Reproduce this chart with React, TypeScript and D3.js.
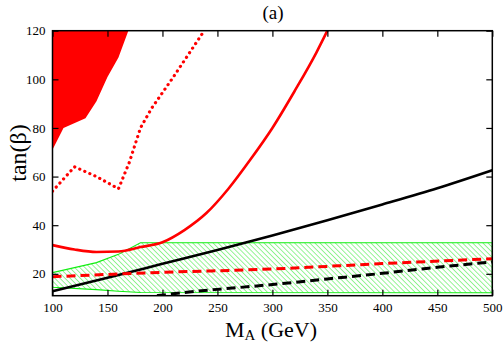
import React, { useRef, useEffect } from "react";
import { select, scaleLinear, line, area, axisBottom, axisLeft, axisTop, axisRight, curveMonotoneX, curveLinear } from "d3";

// tick values
const xTicks = [100, 150, 200, 250, 300, 350, 400, 450, 500];
const yTicks = [20, 40, 60, 80, 100, 120];

// excluded (filled red) region boundary
const fillX = [100, 100, 110, 130, 140, 150, 160, 169];
const fillY = [120, 71, 80, 84, 91, 101, 109, 120];

// red dotted curve
const dotX = [100, 120, 140, 160, 170, 180, 190, 210, 238];
const dotY = [54, 64, 60, 55, 66, 80, 88, 101, 120];

// red solid curve
const redX = [100, 120, 140, 160, 180, 200, 220, 240, 260, 280, 300, 320, 340, 350];
const redY = [31.8, 30, 29, 29.2, 31, 33, 38, 45, 55, 67, 80, 95, 111, 120];

// black solid
const blkX = [100, 150, 200, 250, 300, 350, 400, 450, 500];
const blkY = [12.8, 18.4, 24.1, 29.8, 35.8, 42, 48.5, 55.2, 62.6];

// red dashed
const rdX = [100, 200, 300, 400, 500];
const rdY = [18.8, 20.6, 22, 24.2, 26.2];

// black dashed
const bdX = [195, 230, 250, 300, 350, 400, 450, 500];
const bdY = [11, 12.8, 13.6, 15.6, 17.9, 20.2, 22.7, 24.9];

// green hatched band
const bandX = [100, 140, 160, 180, 500];
const bandTop = [20.5, 24.6, 28, 32.8, 32.8];
const bandBot = [14.5, 13.5, 12.8, 12.3, 12.2];

const zip = (xs: number[], ys: number[]) => xs.map((x, i) => [x, ys[i]] as [number, number]);
const SERIF = "Liberation Serif, Times New Roman, serif";

const App = () => {
  const gRef = useRef<SVGGElement>(null);

  const left = 52.5, right = 492.3, top = 30.7, bottom = 295.7;
  const x = scaleLinear().domain([100, 500]).range([left, right]);
  const y = scaleLinear().domain([11, 120]).range([bottom, top]);

  const ln = line<[number, number]>().x(d => x(d[0])).y(d => y(d[1])).curve(curveLinear);
  const smooth = line<[number, number]>().x(d => x(d[0])).y(d => y(d[1])).curve(curveMonotoneX);
  const band = area<number>()
    .x((d, i) => x(bandX[i]))
    .y0((d, i) => y(bandBot[i]))
    .y1((d) => y(d));

  useEffect(() => {
    const g = select(gRef.current);
    const font = (sel: any) => {
      sel.attr("font-family", SERIF).attr("font-size", 13);
      sel.selectAll("text").attr("font-family", SERIF).attr("font-size", 13).attr("fill", "#000");
    };

    g.select<SVGGElement>(".x-axis")
      .attr("transform", `translate(0,${bottom})`)
      .call(axisBottom(x).tickValues(xTicks).tickSizeInner(-6).tickSizeOuter(0).tickPadding(7))
      .call(font);
    g.select<SVGGElement>(".y-axis")
      .attr("transform", `translate(${left},0)`)
      .call(axisLeft(y).tickValues(yTicks).tickSizeInner(-6).tickSizeOuter(0).tickPadding(7))
      .call(font);
    g.select<SVGGElement>(".x-top")
      .attr("transform", `translate(0,${top})`)
      .call(axisTop(x).tickValues(xTicks).tickSizeInner(-6).tickSizeOuter(0).tickFormat(() => ""));
    g.select<SVGGElement>(".y-right")
      .attr("transform", `translate(${right},0)`)
      .call(axisRight(y).tickValues(yTicks).tickSizeInner(-6).tickSizeOuter(0).tickFormat(() => ""));
    g.selectAll(".domain").remove();
    g.selectAll(".tick line").attr("stroke", "#000").attr("stroke-width", 1.2);
  }, []);

  return (
    <svg width={504} height={343} style={{ position: "absolute", left: 0, top: 0, background: "#fff" }}>
      <defs>
        <clipPath id="plot">
          <rect x={left} y={top} width={right - left} height={bottom - top} />
        </clipPath>
        <pattern id="hatch" width={3.6} height={3.6} patternUnits="userSpaceOnUse" patternTransform="rotate(-45)">
          <line x1={0} y1={0} x2={0} y2={3.6} stroke="#2ee82e" strokeWidth={1} />
        </pattern>
      </defs>
      <g clipPath="url(#plot)">
        <path d={band(bandTop) || ""} fill="url(#hatch)" stroke="#11ee11" strokeWidth={1.1} />
        <path d={ln(zip(fillX, fillY)) + "Z"} fill="#ff0000" stroke="none" />
        <path d={ln(zip(dotX, dotY)) || ""} fill="none" stroke="#ff0000" strokeWidth={3.2} strokeDasharray="0.1 5.4" strokeLinecap="round" />
        <path d={smooth(zip(redX, redY)) || ""} fill="none" stroke="#ff0000" strokeWidth={2.6} />
        <path d={smooth(zip(blkX, blkY)) || ""} fill="none" stroke="#000" strokeWidth={2.6} />
        <path d={smooth(zip(rdX, rdY)) || ""} fill="none" stroke="#ff0000" strokeWidth={3} strokeDasharray="9 5" />
        <path d={smooth(zip(bdX, bdY)) || ""} fill="none" stroke="#000" strokeWidth={3} strokeDasharray="9 5" />
      </g>
      <g ref={gRef}>
        <g className="x-axis" />
        <g className="y-axis" />
        <g className="x-top" />
        <g className="y-right" />
      </g>
      <rect x={left} y={top} width={right - left} height={bottom - top} fill="none" stroke="#000" strokeWidth={1.5} />
      <text x={273} y={19} textAnchor="middle" fontFamily={SERIF} fontSize={19}>(a)</text>
      <text transform={`translate(26,153) rotate(-90)`} textAnchor="middle" fontFamily={SERIF} fontSize={24}>tan(β)</text>
      <text x={271} y={337} textAnchor="middle" fontFamily={SERIF} fontSize={22}>
        M<tspan fontSize={15} dy={3}>A</tspan><tspan dy={-3}> (GeV)</tspan>
      </text>
    </svg>
  );
};

export default App;
